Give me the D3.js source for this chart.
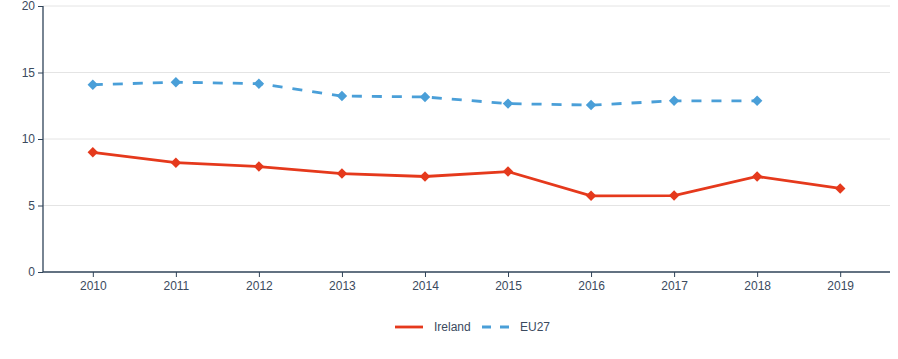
<!DOCTYPE html>
<html>
<head>
<meta charset="utf-8">
<script src="https://cdn.jsdelivr.net/npm/d3@7"></script>
<style>
  body { margin: 0; background: #fff; }
  svg { display: block; font-family: "Liberation Sans", Arial, sans-serif; }
</style>
</head>
<body>
<svg width="898" height="359"></svg>
<script>
// datos
var years = [2010, 2011, 2012, 2013, 2014, 2015, 2016, 2017, 2018, 2019];
var ireland = [9.0, 8.22, 7.93, 7.4, 7.18, 7.55, 5.73, 5.75, 7.18, 6.28];
var eu27 = [14.08, 14.27, 14.16, 13.23, 13.16, 12.66, 12.55, 12.87, 12.87, null];
var yTicks = [0, 5, 10, 15, 20];

var svg = d3.select("svg"),
    margin = {top: 6, right: 8, bottom: 87, left: 43},
    width = +svg.attr("width") - margin.left - margin.right,
    height = +svg.attr("height") - margin.top - margin.bottom,
    g = svg.append("g").attr("transform", "translate(" + margin.left + "," + margin.top + ")");

var textColor = "#3b4a5e", axisColor = "#2f4358";

var x = d3.scalePoint().domain(years).range([0, width]).padding(0.6);
var y = d3.scaleLinear().domain([0, 20]).range([height, 0]);

// rejilla
g.append("g").selectAll("line")
  .data(yTicks.filter(function(d) { return d > 0; }))
  .enter().append("line")
    .attr("x1", 0).attr("x2", width)
    .attr("y1", function(d) { return y(d); })
    .attr("y2", function(d) { return y(d); })
    .attr("stroke", "#e4e4e4").attr("stroke-width", 1);

// ejes
var yAxis = g.append("g").call(d3.axisLeft(y).tickValues(yTicks).tickSize(5).tickPadding(3));
var xAxis = g.append("g").attr("transform", "translate(0," + height + ")")
  .call(d3.axisBottom(x).tickSize(5).tickPadding(4));
[yAxis, xAxis].forEach(function(a) {
  a.select(".domain").attr("stroke", axisColor).attr("stroke-width", 1.3);
  a.selectAll(".tick line").attr("stroke", axisColor);
  a.selectAll("text").attr("fill", textColor).attr("font-size", 12)
    .attr("font-family", "\"Liberation Sans\", Arial, sans-serif");
});
xAxis.select(".domain").attr("d", "M0,0H" + width);
yAxis.select(".domain").attr("d", "M0," + y(20) + "V" + height);

var series = [
  {name: "Ireland", values: ireland, color: "#e5391c", dash: null},
  {name: "EU27", values: eu27, color: "#4a9fd8", dash: "10,10"}
];

var line = d3.line()
  .defined(function(d) { return d.v != null; })
  .x(function(d) { return x(d.year); })
  .y(function(d) { return y(d.v); });

var diamond = d3.symbol().type(d3.symbolDiamond2).size(70);

series.forEach(function(s) {
  var pts = years.map(function(yr, i) { return {year: yr, v: s.values[i]}; });
  g.append("path")
    .datum(pts)
    .attr("d", line)
    .attr("fill", "none")
    .attr("stroke", s.color)
    .attr("stroke-width", 2.8)
    .attr("stroke-dasharray", s.dash);
  g.append("g").selectAll("path")
    .data(pts.filter(function(d) { return d.v != null; }))
    .enter().append("path")
      .attr("d", diamond)
      .attr("transform", function(d) { return "translate(" + x(d.year) + "," + y(d.v) + ")"; })
      .attr("fill", s.color);
});

// leyenda
var legendPos = [{lx: 395, tx: 434}, {lx: 482, tx: 520}];
var legend = svg.append("g").selectAll("g")
  .data(series)
  .enter().append("g")
    .attr("transform", function(d, i) { return "translate(" + legendPos[i].lx + ",327)"; });
legend.append("line")
  .attr("x1", 0).attr("x2", 28)
  .attr("stroke", function(d) { return d.color; })
  .attr("stroke-width", 2.8)
  .attr("stroke-dasharray", function(d) { return d.dash ? "9,9" : null; });
legend.append("text")
  .attr("x", function(d, i) { return legendPos[i].tx - legendPos[i].lx; })
  .attr("dy", "0.35em")
  .attr("font-size", 12)
  .attr("fill", textColor)
  .text(function(d) { return d.name; });
</script>
</body>
</html>
